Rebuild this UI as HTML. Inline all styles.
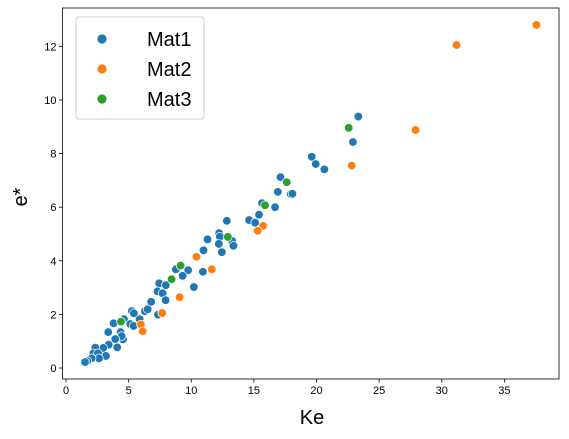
<!DOCTYPE html>
<html><head><meta charset="utf-8">
<style>
html,body{margin:0;padding:0;background:#fff;}
svg{display:block;font-family:"Liberation Sans",Arial,sans-serif;}
</style></head>
<body>
<svg id="chart" width="569" height="439" viewBox="0 0 569 439" xmlns="http://www.w3.org/2000/svg"></svg>
<script>
const xTicks=[0,5,10,15,20,25,30,35];
const yTicks=[0,2,4,6,8,10,12];
const seriesNames=["Mat1","Mat2","Mat3"];
const seriesColors=["#1f77b4","#ff7f0e","#2ca02c"];
const mat1X=[23.34,22.91,19.62,19.94,20.63,17.12,16.91,17.94,18.08,15.65,16.69,15.41,14.62,15.10,12.84,12.22,12.28,11.30,13.26,13.37,12.20,12.44,10.98,10.93,9.75,9.31,8.77,7.44,7.97,10.21,7.31,7.71,7.95,6.80,5.26,5.42,6.30,6.52,7.34,5.88,3.80,4.63,5.13,5.40,3.37,4.36,4.55,4.44,3.93,3.41,4.09,2.97,2.34,2.18,2.55,3.19,2.63,2.05,1.70,1.52];
const mat1Y=[9.38,8.43,7.88,7.61,7.41,7.12,6.57,6.49,6.50,6.15,6.00,5.72,5.52,5.42,5.49,5.03,4.90,4.80,4.74,4.56,4.63,4.32,4.39,3.59,3.65,3.44,3.68,3.16,3.09,3.02,2.86,2.79,2.53,2.47,2.12,2.04,2.12,2.19,1.99,1.82,1.67,1.82,1.64,1.57,1.34,1.34,1.07,1.19,1.08,0.87,0.77,0.75,0.76,0.55,0.55,0.45,0.36,0.36,0.26,0.22];
const mat2X=[37.56,31.18,27.91,22.81,15.73,15.31,11.64,10.42,9.07,7.68,5.98,6.12];
const mat2Y=[12.80,12.05,8.88,7.55,5.30,5.12,3.68,4.15,2.64,2.05,1.62,1.37];
const mat3X=[22.57,17.62,15.89,12.92,9.15,8.43,4.39];
const mat3Y=[8.96,6.93,6.07,4.89,3.82,3.31,1.73];

const svg=document.getElementById('chart');
const NS="http://www.w3.org/2000/svg";
const L=62.5,R=559,T=8,B=379;
const xMin=-0.28,xMax=39.36,yMin=-0.41,yMax=13.43;
const sx=v=>L+(v-xMin)/(xMax-xMin)*(R-L);
const sy=v=>B-(v-yMin)/(yMax-yMin)*(B-T);
function mk(tag,attrs,parent){const e=document.createElementNS(NS,tag);for(const k in attrs)e.setAttribute(k,attrs[k]);(parent||svg).appendChild(e);return e;}

const axes=mk('g',{});


xTicks.forEach(t=>{
  const g=mk('g',{},axes);
  
  
  mk('line',{x1:sx(t),x2:sx(t),y1:B,y2:B+3.5,stroke:'#000','stroke-width':0.8},g);
  const tx=mk('text',{x:sx(t),y:B+15,'font-size':11,'text-anchor':'middle',fill:'#000'},g);
  tx.textContent=t;
});
yTicks.forEach(t=>{
  const g=mk('g',{},axes);
  
  
  mk('line',{x1:L-3.5,x2:L,y1:sy(t),y2:sy(t),stroke:'#000','stroke-width':0.8},g);
  const tx=mk('text',{x:L-6,y:sy(t)+4,'font-size':11,'text-anchor':'end',fill:'#000'},g);
  tx.textContent=t;
});

const pts=mk('g',{});


[[mat1X,mat1Y],[mat2X,mat2Y],[mat3X,mat3Y]].forEach((s,si)=>{
  s[0].forEach((x,i)=>{
    const c=mk('circle',{cx:sx(x),cy:sy(s[1][i]),r:4.3,fill:seriesColors[si],stroke:'#fff','stroke-width':0.75},pts);
    
    
  });
});

const frame=mk('rect',{x:L,y:T,width:R-L,height:B-T,fill:'none',stroke:'#000','stroke-width':0.8});



const xl=mk('text',{x:312,y:424,'font-size':20,'text-anchor':'middle',fill:'#000'});


xl.textContent='Ke';
const yl=mk('text',{x:0,y:0,'font-size':20,'text-anchor':'middle',fill:'#000',transform:'translate(27,197) rotate(-90)'});


yl.textContent='e*';

const leg=mk('g',{});


mk('rect',{x:76,y:17,width:128,height:102,rx:3,fill:'#fff','fill-opacity':0.8,stroke:'#ccc','stroke-width':1},leg);
seriesNames.forEach((n,i)=>{
  const g=mk('g',{},leg);
  
  
  const y=39+i*30;
  mk('circle',{cx:102,cy:y,r:5,fill:seriesColors[i],stroke:'#fff','stroke-width':0.75},g);
  const t=mk('text',{x:147,y:y+7,'font-size':20,fill:'#000'},g);
  t.textContent=n;
});
</script>
</body></html>
